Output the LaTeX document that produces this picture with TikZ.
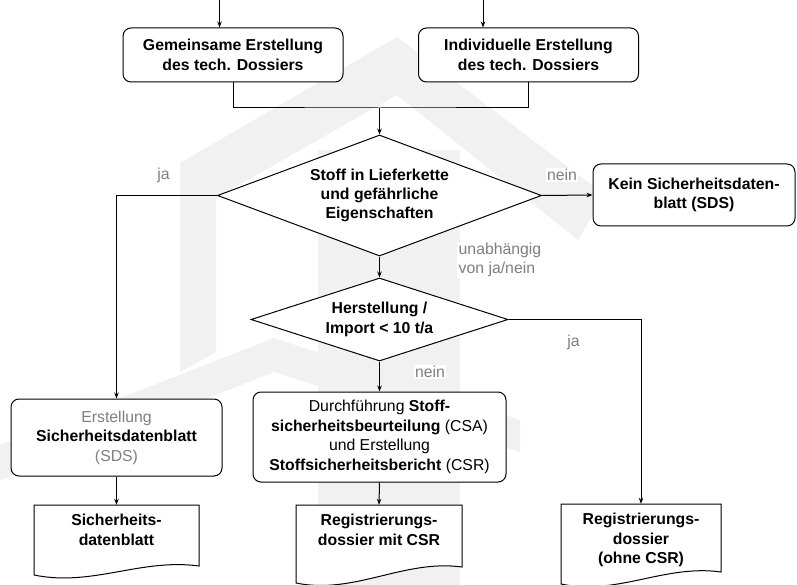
\documentclass[tikz,border=0pt]{standalone}
\usepackage{fontspec}
\setmainfont{Liberation Sans}
\usetikzlibrary{shapes.geometric,arrows.meta,calc}
\definecolor{lblgray}{HTML}{7F7F7F}
\definecolor{wmgray}{HTML}{F1F1F1}
\begin{document}
\begin{tikzpicture}[x=1pt,y=-1pt,
  line/.style={line width=1pt, draw=black},
  arr/.style={line, -{Stealth[length=6pt,width=4.5pt]}},
  rbox/.style={draw, fill=white, line width=1pt, rounded corners=8pt, align=center, inner sep=0pt,
     font=\fontsize{15.8}{19.5}\selectfont},
  bf/.style={font=\bfseries\fontsize{15.8}{19.5}\selectfont},
  dia/.style={draw, fill=white, line width=1pt, diamond, align=center, inner sep=0pt},
  lab/.style={text=lblgray, fill=white, inner sep=1.5pt, font=\fontsize{15.8}{18.5}\selectfont},
  doclbl/.style={align=center, inner sep=0pt, font=\bfseries\fontsize{15.8}{19.5}\selectfont},
  docbox/.style={inner sep=0pt, draw=none},
  wm/.style={fill=wmgray, draw=none}]
\useasboundingbox (0,0) rectangle (797,585);

% faint background logo
\path[wm] (180,372) -- (180,163) -- (397,37) -- (605,195) -- (578,240) -- (397,95) -- (216,198) -- (216,352) -- cycle;
\path[wm] (318,150) -- (460,150) -- (460,585) -- (318,585) -- cycle;
\path[wm] (0,445) -- (274,338) -- (520,420) -- (520,452) -- (274,372) -- (0,480) -- cycle;

% process boxes
\node[rbox, bf, minimum width=220, minimum height=54] (box1) at (233,55) {Gemeinsame Erstellung\\des tech. Dossiers};
\node[rbox, bf, minimum width=220, minimum height=54] (box2) at (528.5,55) {Individuelle Erstellung\\des tech. Dossiers};
\node[dia, minimum width=324, minimum height=121, shape aspect=2.66,
      font=\bfseries\fontsize{15.8}{18.7}\selectfont] (d1) at (379.5,195.5) {Stoff in Lieferkette\\und gefährliche\\Eigenschaften};
\node[rbox, bf, minimum width=202, minimum height=62] (kein) at (694,195) {Kein Sicherheitsdaten-\\blatt (SDS)};
\node[dia, bf, minimum width=257, minimum height=83, shape aspect=3.1] (d2) at (379.5,319.5) {Herstellung /\\Import < 10 t/a};
\node[rbox, minimum width=211, minimum height=77] (sds) at (116.5,437.5)
  {\textcolor{lblgray}{Erstellung}\\\textbf{Sicherheitsdatenblatt}\\\textcolor{lblgray}{(SDS)}};
\node[rbox, minimum width=253, minimum height=90] (csa) at (379.5,437)
  {Durchführung \textbf{Stoff-}\\\textbf{sicherheitsbeurteilung} (CSA)\\und Erstellung\\\textbf{Stoffsicherheitsbericht} (CSR)};

% document shapes
\node[docbox, minimum width=165, minimum height=70] (doc1) at (116.5,540) {};
\node[docbox, minimum width=166, minimum height=78] (doc2) at (379,544) {};
\node[docbox, minimum width=160, minimum height=80] (doc3) at (641,544) {};
\draw[line, fill=white] (34,505) -- (199,505) -- (199,566) .. controls (141,558) and (92,587) .. (34,575) -- cycle;
\draw[line, fill=white] (296,505) -- (462,505) -- (462,567) .. controls (404,559) and (354,595) .. (296,583) -- cycle;
\draw[line, fill=white] (561,504) -- (721,504) -- (721,572) .. controls (665,564) and (617,596) .. (561,584) -- cycle;
\node[doclbl] (doc1t) at (116.5,530) {Sicherheits-\\datenblatt};
\node[doclbl] (doc2t) at (379,530) {Registrierungs-\\dossier mit CSR};
\node[doclbl] (doc3t) at (641,540) {Registrierungs-\\dossier\\(ohne CSR)};

% connectors
\coordinate (in1) at (219.5,0);
\coordinate (in2) at (483,0);
\coordinate (mrg) at (379.5,108);
\draw[arr] (in1) -- (in1 |- box1.north);
\draw[arr] (in2) -- (in2 |- box2.north);
\draw[line] (box1.south) |- (mrg) -| (box2.south);
\draw[arr] (mrg) -- (d1.north);
\draw[arr] (d1.west) -| (sds.north);
\draw[arr] (d1.east) -- (kein.west);
\draw[arr] (d1.south) -- (d2.north);
\draw[arr] (d2.south) -- (csa.north);
\draw[arr] (d2.east) -| (doc3.north);
\draw[arr] (sds.south) -- (doc1.north);
\draw[arr] (csa.south) -- (doc2.north);

% labels
\node[lab] (lja1) at (163.5,175) {ja};
\node[lab] (lnein1) at (562,175) {nein};
\node[lab, align=left, anchor=west] (lunab) at (457,260) {unabhängig\\von ja/nein};
\node[lab] (lnein2) at (430,372) {nein};
\node[lab] (lja2) at (573.5,342.5) {ja};
\end{tikzpicture}
\end{document}
